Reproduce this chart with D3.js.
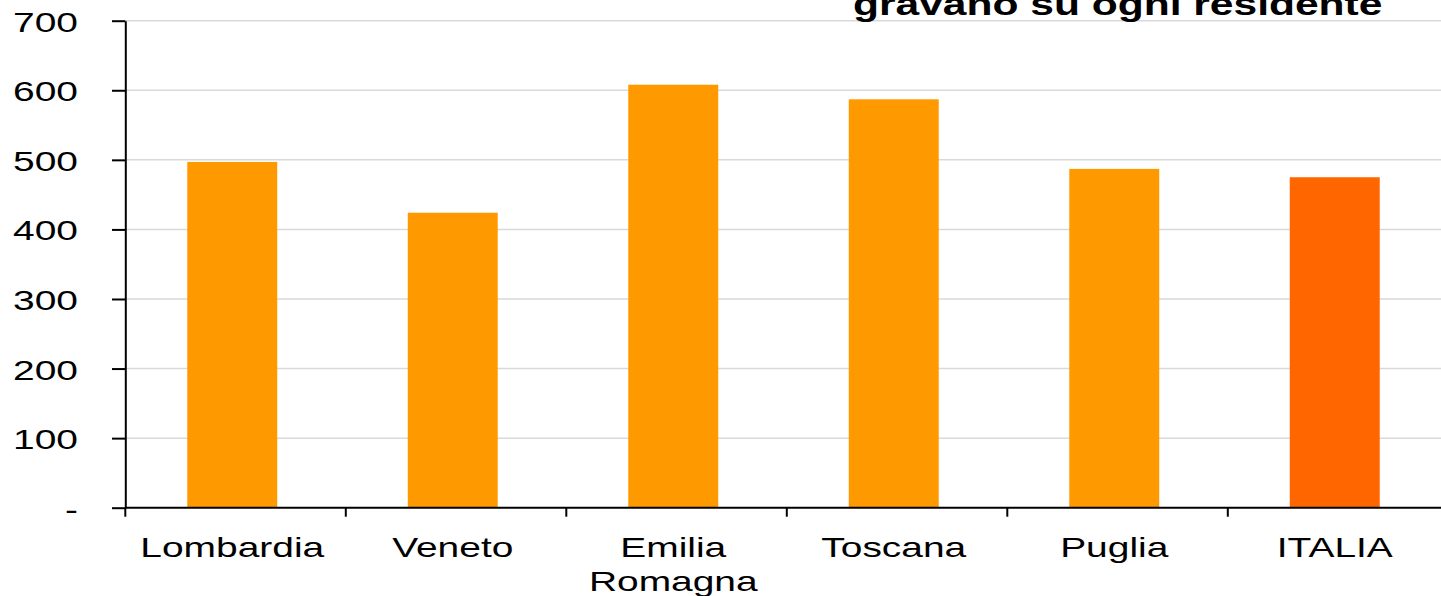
<!DOCTYPE html>
<html>
<head>
<meta charset="utf-8">
<script src="https://cdn.jsdelivr.net/npm/d3@7"></script>
<style>
  html, body { margin: 0; padding: 0; background: #fff; overflow: hidden; }
  svg { display: block; font-family: "Liberation Sans", Arial, sans-serif; }
</style>
</head>
<body>
<svg id="chart" width="1441" height="596"></svg>
<script>
// Euro per resident, by region
const categories = ["Lombardia", "Veneto", "Emilia Romagna", "Toscana", "Puglia", "ITALIA"];
const values = [497, 424, 608, 587, 487, 475];
const barColors = ["#FF9900", "#FF9900", "#FF9900", "#FF9900", "#FF9900", "#FF6600"];
const yTicks = [0, 100, 200, 300, 400, 500, 600, 700];
const titleText = "gravano su ogni residente";

const W = 1441, H = 596;
const stretch = 1.39;            // horizontal widening applied to all text
const svg = d3.select("#chart");

const x = d3.scaleBand()
  .domain(categories)
  .range([122, 1445])
  .paddingInner(0.592)
  .paddingOuter(0.296);

const y = d3.scaleLinear()
  .domain([0, 700])
  .range([507.7, 20.7]);

const axisX = 125.3;

// horizontal gridlines
svg.append("g")
  .selectAll("line")
  .data(yTicks.filter(d => d > 0))
  .join("line")
  .attr("x1", axisX).attr("x2", W)
  .attr("y1", d => y(d)).attr("y2", d => y(d))
  .attr("stroke", "#d9d9d9")
  .attr("stroke-width", 1.5);

// bars
svg.append("g")
  .selectAll("rect")
  .data(categories)
  .join("rect")
  .attr("x", d => x(d))
  .attr("width", x.bandwidth())
  .attr("y", (d, i) => y(values[i]))
  .attr("height", (d, i) => y(0) - y(values[i]))
  .attr("fill", (d, i) => barColors[i]);

// y axis
const yAxis = d3.axisLeft(y)
  .tickValues(yTicks)
  .tickSize(13.3)
  .tickSizeOuter(0)
  .tickFormat(d => d === 0 ? "-" : d3.format("d")(d));

const gy = svg.append("g")
  .attr("transform", `translate(${axisX},0)`)
  .call(yAxis);
gy.select(".domain").attr("stroke", "#000").attr("stroke-width", 2);
gy.selectAll(".tick line").attr("stroke", "#000").attr("stroke-width", 2);
gy.selectAll(".tick text")
  .attr("x", null)
  .attr("dy", null)
  .attr("text-anchor", "end")
  .attr("font-size", 28)
  .attr("fill", "#000")
  .attr("transform", `translate(-47.3,10.5) scale(${stretch},1)`);

// x axis line
svg.append("line")
  .attr("x1", axisX).attr("x2", W)
  .attr("y1", y(0)).attr("y2", y(0))
  .attr("stroke", "#000")
  .attr("stroke-width", 2);

// x axis ticks at category boundaries
const step = x.step();
const boundaries = d3.range(categories.length + 1).map(i => axisX + i * step);
svg.append("g")
  .selectAll("line")
  .data(boundaries)
  .join("line")
  .attr("x1", d => d).attr("x2", d => d)
  .attr("y1", y(0)).attr("y2", y(0) + 9)
  .attr("stroke", "#000")
  .attr("stroke-width", 2);

// category labels (multi-word names wrap onto two lines)
const labels = svg.append("g")
  .selectAll("text")
  .data(categories)
  .join("text")
  .attr("text-anchor", "middle")
  .attr("font-size", 28)
  .attr("fill", "#000")
  .attr("transform", d => `translate(${x(d) + x.bandwidth() / 2},${y(0) + 49}) scale(${stretch},1)`);

labels.each(function(d) {
  const words = d.split(" ");
  d3.select(this).selectAll("tspan")
    .data(words)
    .join("tspan")
    .attr("x", 0)
    .attr("y", (w, i) => i * 34)
    .text(w => w);
});

// title (last line)
svg.append("text")
  .attr("font-size", 30.6)
  .attr("font-weight", "bold")
  .attr("fill", "#000")
  .attr("transform", `translate(853,15) scale(${stretch},1)`)
  .text(titleText);
</script>
</body>
</html>
